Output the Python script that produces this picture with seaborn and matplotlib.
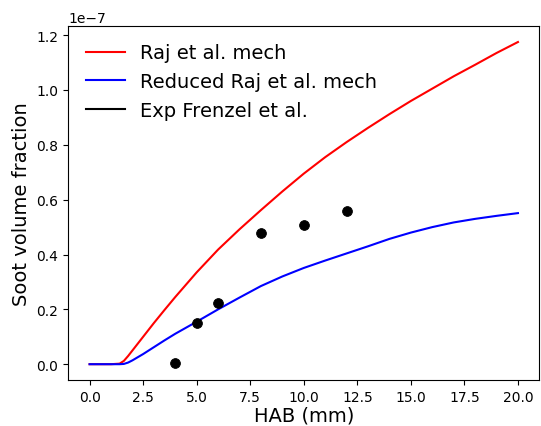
import matplotlib
matplotlib.use("Agg")
import matplotlib.pyplot as plt
from matplotlib.lines import Line2D
import pandas as pd
import seaborn as sns

# HAB in mm, soot volume fraction in units of 1e-7
hab = [0, 1.0, 1.4, 1.6, 1.8, 2.0, 2.5, 3.0, 3.5, 4.0, 5.0, 6.0, 7.0, 8.0, 9.0, 10.0,
       11.0, 12.0, 13.0, 14.0, 15.0, 16.0, 17.0, 18.0, 19.0, 20.0]
fv_raj = [0, 0, 0.002, 0.012, 0.03, 0.05, 0.1, 0.15, 0.198, 0.245, 0.335, 0.418, 0.492, 0.562, 0.63, 0.695,
          0.755, 0.81, 0.862, 0.912, 0.96, 1.005, 1.05, 1.092, 1.135, 1.175]
fv_red = [0, 0, 0, 0.001, 0.006, 0.014, 0.037, 0.062, 0.087, 0.111, 0.155, 0.2, 0.243, 0.285, 0.32, 0.351,
          0.378, 0.404, 0.43, 0.457, 0.48, 0.5, 0.517, 0.53, 0.541, 0.551]

hab_exp = [4, 5, 6, 8, 10, 12]
fv_exp = [0.004, 0.152, 0.222, 0.48, 0.508, 0.56]

raj = pd.DataFrame({"HAB": hab, "fv": [v * 1e-7 for v in fv_raj]})
red = pd.DataFrame({"HAB": hab, "fv": [v * 1e-7 for v in fv_red]})
exp = pd.DataFrame({"HAB": hab_exp, "fv": [v * 1e-7 for v in fv_exp]})

fig, ax = plt.subplots(figsize=(5.41, 4.27), dpi=100)
sns.lineplot(data=raj, x="HAB", y="fv", color="red", linewidth=1.5, ax=ax)
sns.lineplot(data=red, x="HAB", y="fv", color="blue", linewidth=1.5, ax=ax)
sns.scatterplot(data=exp, x="HAB", y="fv", color="black", s=50, edgecolor="black", ax=ax, zorder=3)

# legend shows plain line handles for all three entries
handles = [
    Line2D([], [], color="red", lw=1.5),
    Line2D([], [], color="blue", lw=1.5),
    Line2D([], [], color="black", lw=1.5),
]
ax.legend(handles, ["Raj et al. mech", "Reduced Raj et al. mech", "Exp Frenzel et al."],
          fontsize=14, frameon=False, loc="upper left")

ax.set_xlabel("HAB (mm)", fontsize=14, labelpad=1)
ax.set_ylabel("Soot volume fraction", fontsize=14)
ax.set_xticks([0, 2.5, 5, 7.5, 10, 12.5, 15, 17.5, 20])

plt.subplots_adjust(left=0.126, right=0.997, top=0.937, bottom=0.107)
plt.savefig("out.png")
